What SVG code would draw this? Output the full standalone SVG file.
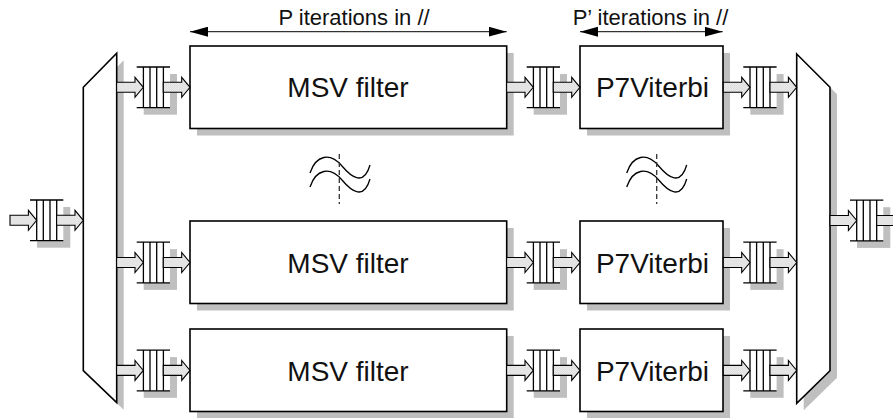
<svg xmlns="http://www.w3.org/2000/svg" xmlns:xlink="http://www.w3.org/1999/xlink" width="893" height="418" viewBox="0 0 893 418">
<style>
.box{fill:#fff;stroke:#000;stroke-width:1.6}
.shadow{fill:#bfbfbf;stroke:none}
.lbl{font-family:"Liberation Sans",Arial,sans-serif;font-size:28px;fill:#111;text-anchor:middle}
.dim{font-family:"Liberation Sans",Arial,sans-serif;font-size:22px;fill:#111;text-anchor:middle}
.fl{stroke:#000;stroke-width:1.3;fill:none}
.fat{fill:url(#stip);stroke:#000;stroke-width:1.1}
.dline{stroke:#333;stroke-width:1.2;fill:none}
.wave{stroke:#000;stroke-width:1.3;fill:none}
.dash{stroke:#333;stroke-width:1.3;stroke-dasharray:5,3;fill:none}
</style>
<defs>
<pattern id="stip" width="2" height="2" patternUnits="userSpaceOnUse">
<rect width="2" height="2" fill="#f6f6f6"/>
<rect width="1" height="1" fill="#d2d2d2"/>
<rect x="1" y="1" width="1" height="1" fill="#d2d2d2"/>
</pattern>
<g id="fifo">
<rect class="shadow" x="7" y="-13.3" width="33.3" height="40.7"/>
<rect x="0" y="-20.3" width="33.3" height="40.7" fill="#fff"/>
<path class="fl" d="M0,-20.3H33.3M0,20.4H33.3M6.7,-20.3V20.4M13.3,-20.3V20.4M20,-20.3V20.4M26.7,-20.3V20.4"/>
</g>
<path id="fa" class="fat" d="M-26.7,-5H-8.3V-10L0,0L-8.3,10V5H-26.7Z"/>
<g id="wv">
<path class="wave" d="M0,173C6,155 20,152 32,166C42,178 54,186 60,165"/>
<path class="wave" d="M0,187C6,169 20,166 32,180C42,192 54,200 60,179"/>
</g>
<marker id="ah" viewBox="0 0 18 10" refX="18" refY="5" markerWidth="18" markerHeight="10" markerUnits="userSpaceOnUse" orient="auto-start-reverse">
<path d="M0,0L18,5L0,10Z" fill="#000"/>
</marker>
</defs>

<g id="demux">
<polygon class="shadow" points="90.3,94.3 123.7,60.3 123.7,409.7 90.3,377.7"/>
<polygon class="box" points="83.3,87.3 116.7,53.3 116.7,402.7 83.3,370.7"/>
</g>
<g id="mux">
<polygon class="shadow" points="803.7,61 837,94.3 837,377.7 803.7,410.3"/>
<polygon class="box" points="796.7,54 830,87.3 830,370.7 796.7,403.3"/>
</g>

<g id="msv1"><rect class="shadow" x="197" y="53" width="316.7" height="82.5"/><rect class="box" x="190" y="46" width="316.7" height="82.5"/><text class="lbl" x="348" y="97">MSV filter</text></g>
<g id="msv2"><rect class="shadow" x="197" y="228" width="316.7" height="82.5"/><rect class="box" x="190" y="221" width="316.7" height="82.5"/><text class="lbl" x="348" y="272.5">MSV filter</text></g>
<g id="msv3"><rect class="shadow" x="197" y="336" width="316.7" height="82.5"/><rect class="box" x="190" y="329" width="316.7" height="82.5"/><text class="lbl" x="348" y="380.5">MSV filter</text></g>

<g id="vit1"><rect class="shadow" x="587" y="53" width="143" height="82.5"/><rect class="box" x="580" y="46" width="143" height="82.5"/><text class="lbl" x="652.5" y="97">P7Viterbi</text></g>
<g id="vit2"><rect class="shadow" x="587" y="228" width="143" height="82.5"/><rect class="box" x="580" y="221" width="143" height="82.5"/><text class="lbl" x="652.5" y="272.5">P7Viterbi</text></g>
<g id="vit3"><rect class="shadow" x="587" y="336" width="143" height="82.5"/><rect class="box" x="580" y="329" width="143" height="82.5"/><text class="lbl" x="652.5" y="380.5">P7Viterbi</text></g>

<g id="fifos">
<use xlink:href="#fifo" x="30" y="220.3"/>
<use xlink:href="#fifo" x="850" y="220.5"/>
<use xlink:href="#fifo" x="136.7" y="87.3"/>
<use xlink:href="#fifo" x="526.7" y="87.3"/>
<use xlink:href="#fifo" x="743.3" y="87.3"/>
<use xlink:href="#fifo" x="136.7" y="262.5"/>
<use xlink:href="#fifo" x="526.7" y="262.5"/>
<use xlink:href="#fifo" x="743.3" y="262.5"/>
<use xlink:href="#fifo" x="136.7" y="370.4"/>
<use xlink:href="#fifo" x="526.7" y="370.4"/>
<use xlink:href="#fifo" x="743.3" y="370.4"/>
</g>

<g id="gap1"><use xlink:href="#wv" x="310"/><line class="dash" x1="339.3" y1="154" x2="339.3" y2="204"/></g>
<g id="gap2"><use xlink:href="#wv" x="626.7"/><line class="dash" x1="656.7" y1="154" x2="656.7" y2="204"/></g>

<g id="connectors">
<use xlink:href="#fa" x="36.7" y="220.3"/>
<use xlink:href="#fa" x="83.3" y="220.3"/>
<use xlink:href="#fa" x="856.7" y="220.5"/>
<use xlink:href="#fa" x="903.4" y="220.5"/>
<use xlink:href="#fa" x="143.3" y="87.3"/>
<use xlink:href="#fa" x="190" y="87.3"/>
<use xlink:href="#fa" x="533.3" y="87.3"/>
<use xlink:href="#fa" x="580" y="87.3"/>
<use xlink:href="#fa" x="750" y="87.3"/>
<use xlink:href="#fa" x="796.7" y="87.3"/>
<use xlink:href="#fa" x="143.3" y="262.5"/>
<use xlink:href="#fa" x="190" y="262.5"/>
<use xlink:href="#fa" x="533.3" y="262.5"/>
<use xlink:href="#fa" x="580" y="262.5"/>
<use xlink:href="#fa" x="750" y="262.5"/>
<use xlink:href="#fa" x="796.7" y="262.5"/>
<use xlink:href="#fa" x="143.3" y="370.4"/>
<use xlink:href="#fa" x="190" y="370.4"/>
<use xlink:href="#fa" x="533.3" y="370.4"/>
<use xlink:href="#fa" x="580" y="370.4"/>
<use xlink:href="#fa" x="750" y="370.4"/>
<use xlink:href="#fa" x="796.7" y="370.4"/>
<line class="dline" x1="190" y1="31.7" x2="506.7" y2="31.7" marker-start="url(#ah)" marker-end="url(#ah)"/>
<line class="dline" x1="580" y1="31.7" x2="722.7" y2="31.7" marker-start="url(#ah)" marker-end="url(#ah)"/>
</g>
<text class="dim" x="354" y="25">P iterations in //</text>
<text class="dim" x="650.5" y="25">P’ iterations in //</text>
</svg>
